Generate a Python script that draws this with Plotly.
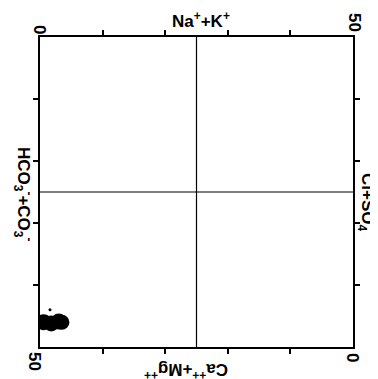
import plotly.graph_objects as go

# Data (meq %)
na_k = [0.6, 1.8, 3.0, 3.5, 1.6]          # Na+ + K+ (top axis)
hco3_co3 = [46.0, 46.2, 45.9, 46.0, 44.0]  # HCO3- + CO3- (left axis, 0 at top)
sizes = [16, 16, 16, 15, 3]

tick_vals = [10, 20, 30, 40]

# page body has an 8px margin; the figure is sized/placed to compensate
OFF = 8
W, H = 378 - OFF, 379 - OFF
# plot frame in window pixels
FL, FR, FT, FB = 40, 353, 37, 347
L, R, T, B = FL - OFF, W - (FR - OFF), FT - OFF, H - (FB - OFF)

fig = go.Figure()
fig.add_trace(go.Scatter(
    x=na_k, y=hco3_co3, mode="markers",
    marker=dict(color="black", size=sizes, opacity=1, line=dict(width=0)),
    showlegend=False, hoverinfo="skip"))

axis_common = dict(showgrid=False, zeroline=False, showline=True, linecolor="black",
                   linewidth=2, mirror="ticks", ticks="outside", ticklen=5,
                   tickwidth=1.5, tickcolor="black", tickvals=tick_vals,
                   showticklabels=False)
fig.update_xaxes(range=[0, 50], side="top", **axis_common)
fig.update_yaxes(range=[50, 0], **axis_common)

# centre cross
fig.add_shape(type="line", x0=25, x1=25, y0=0, y1=50, xref="x", yref="y",
              line=dict(color="black", width=1.2))
fig.add_shape(type="line", x0=0, x1=50, y0=25, y1=25, xref="x", yref="y",
              line=dict(color="black", width=1.2))

font = dict(family="Liberation Sans", size=17, color="black")
ann = [
    dict(text="<b>Na<sup>+</sup>+K<sup>+</sup></b>", x=201, y=20, textangle=0),
    dict(text="<b>HCO<sub>3</sub><sup>-</sup>+CO<sub>3</sub><sup>-</sup></b>", x=24, y=194, textangle=90),
    dict(text="<b>Cl+SO<sub>4</sub></b>", x=366, y=202, textangle=90),
    dict(text="<b>Ca<sup>++</sup>+Mg<sup>++</sup></b>", x=186, y=371, textangle=180),
    dict(text="<b>0</b>", x=39, y=29, textangle=90),
    dict(text="<b>50</b>", x=355, y=22, textangle=90),
    dict(text="<b>50</b>", x=35, y=361, textangle=90),
    dict(text="<b>0</b>", x=353, y=357, textangle=90),
]
annotations = []
pw, ph = W - L - R, H - T - B
for a in ann:
    annotations.append(dict(text=a["text"],
                            x=(a["x"] - OFF - L) / pw,
                            y=1 - (a["y"] - OFF - T) / ph,
                            xref="paper", yref="paper", showarrow=False,
                            textangle=a["textangle"], font=font,
                            xanchor="center", yanchor="middle"))

fig.update_layout(width=W, height=H, margin=dict(l=L, r=R, t=T, b=B),
                  paper_bgcolor="white", plot_bgcolor="white",
                  annotations=annotations)

fig.write_html("out.html")
